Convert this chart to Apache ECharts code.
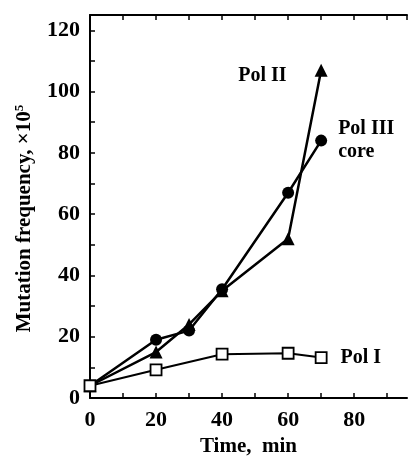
<!DOCTYPE html>
<html>
<head>
    <meta http-equiv="Content-Type" content="text/html; charset=utf-8"/>
    <title>Mutation frequency</title>
    <style>
        html, body { margin: 0; padding: 0; background: #fff; }
        #main { width: 408px; height: 462px; }
    </style>
    <script src="https://cdn.jsdelivr.net/npm/echarts@6/dist/echarts.min.js"></script>
</head>
<body>
<div id="main"></div>
<script type="text/javascript">
    // time points (min)
    var times = [0, 20, 30, 40, 60, 70];
    var timesPolI = [0, 20, 40, 60, 70];
    // mutation frequency x10^5
    var polII = [4, 15, 24, 35, 52, 107];
    var polIIIcore = [4, 19, 22, 35.5, 67, 84];
    var polI = [4, 9.2, 14.3, 14.6, 13.2];
    var yLabels = [0, 20, 40, 60, 80, 100, 120];
    var xLabels = [0, 20, 40, 60, 80];

    var font = '"Liberation Serif", "Times New Roman", serif';

    function pairs(xs, ys) {
        var out = [];
        for (var i = 0; i < xs.length; i++) out.push([xs[i], ys[i]]);
        return out;
    }
    function labelLast(data, label) {
        data[data.length - 1] = { value: data[data.length - 1], label: label };
        return data;
    }

    var txt = { color: '#000', fontFamily: font, fontWeight: 'bold', fontSize: 21 };

    var myChart = echarts.init(document.getElementById('main'));
    var option = {
        animation: false,
        backgroundColor: '#fff',
        grid: { left: 90, right: 1, top: 15, bottom: 64 },
        xAxis: [{
            type: 'value', min: 0, max: 96, interval: 10,
            axisLine: { lineStyle: { color: '#000', width: 2 } },
            axisTick: { inside: true, length: 5, lineStyle: { color: '#000', width: 1.5 } },
            splitLine: { show: false },
            axisLabel: {
                color: '#000', fontFamily: font, fontWeight: 'bold', fontSize: 22, margin: 11,
                showMaxLabel: false,
                formatter: function (v) { return xLabels.indexOf(v) >= 0 ? v : ''; }
            },
            name: 'Time,  min', nameLocation: 'middle', nameGap: 36,
            nameTextStyle: txt
        }, {
            type: 'value', position: 'top', min: 0, max: 96, interval: 10,
            axisLine: { lineStyle: { color: '#000', width: 2 } },
            axisTick: { inside: true, length: 5, lineStyle: { color: '#000', width: 1.5 } },
            axisLabel: { show: false },
            splitLine: { show: false }
        }],
        yAxis: {
            type: 'value', min: 0, max: 125, interval: 10,
            axisLine: { lineStyle: { color: '#000', width: 2 } },
            axisTick: { inside: true, length: 5, lineStyle: { color: '#000', width: 1.5 } },
            splitLine: { show: false },
            axisLabel: {
                color: '#000', fontFamily: font, fontWeight: 'bold', fontSize: 22, margin: 10,
                showMaxLabel: false,
                formatter: function (v) { return yLabels.indexOf(v) >= 0 ? v : ''; }
            },
            name: '{a|Mutation frequency, ×10}{s|5}', nameLocation: 'middle', nameGap: 53,
            nameTextStyle: {
                padding: [0, 24, 0, 0],
                rich: {
                    a: txt,
                    s: { color: '#000', fontFamily: font, fontWeight: 'bold', fontSize: 13, padding: [0, 0, 11, 0] }
                }
            }
        },
        series: [{
            name: 'Pol II', type: 'line',
            data: labelLast(pairs(times, polII), {
                show: true, position: 'left', distance: 28, offset: [0, 6],
                formatter: 'Pol II', color: '#000', fontFamily: font, fontWeight: 'bold', fontSize: 20
            }),
            symbol: 'triangle', symbolSize: 13,
            itemStyle: { color: '#000' },
            lineStyle: { color: '#000', width: 2.5 }
        }, {
            name: 'Pol III core', type: 'line',
            data: labelLast(pairs(times, polIIIcore), {
                show: true, position: 'right', distance: 11, align: 'left', lineHeight: 23,
                formatter: 'Pol III\ncore', color: '#000', fontFamily: font, fontWeight: 'bold', fontSize: 20
            }),
            symbol: 'circle', symbolSize: 12,
            itemStyle: { color: '#000' },
            lineStyle: { color: '#000', width: 2.5 }
        }, {
            name: 'Pol I', type: 'line',
            data: labelLast(pairs(timesPolI, polI), {
                show: true, position: 'right', distance: 13,
                formatter: 'Pol I', color: '#000', fontFamily: font, fontWeight: 'bold', fontSize: 20
            }),
            symbol: 'rect', symbolSize: 11,
            itemStyle: { color: '#fff', borderColor: '#000', borderWidth: 1.8 },
            lineStyle: { color: '#000', width: 2 }
        }]
    };
    myChart.setOption(option);
</script>
</body>
</html>
